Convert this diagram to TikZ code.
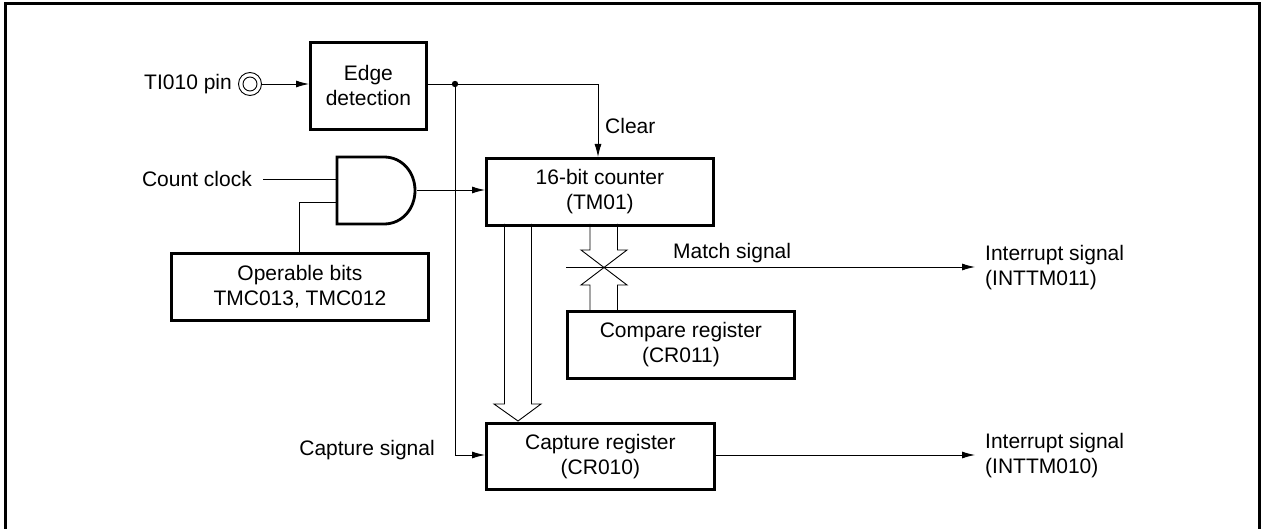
\documentclass[tikz,border=0pt]{standalone}
\usepackage{fontspec}
\setmainfont{Liberation Sans}
\usetikzlibrary{arrows.meta,positioning}
\begin{document}
\begin{tikzpicture}[x=1pt,y=-1pt,font=\fontsize{21}{25}\selectfont,
  blk/.style={draw,line width=2.8pt,align=center,anchor=north west,inner sep=0pt},
  lbl/.style={anchor=west,align=left,inner sep=0pt},
  sig/.style={line width=0.9pt,-{Latex[length=13pt,width=7pt]}},
  wire/.style={line width=0.9pt},
  bus/.style={line width=0.9pt,line join=miter}]
  \useasboundingbox (0,0) rectangle (1261,529);
  \draw[line width=3pt] (5.5,529) -- (5.5,4) -- (1259.5,4) -- (1259.5,529);
  % blocks
  \node[blk,minimum width=116pt,minimum height=87pt] (edge) at (309,41) {Edge\\ detection};
  \node[blk,minimum width=227pt,minimum height=67pt] (cnt) at (485,157) {16-bit counter\\ (TM01)};
  \node[blk,minimum width=257pt,minimum height=67pt] (opb) at (170,252) {Operable bits\\ TMC013, TMC012};
  \node[blk,minimum width=227pt,minimum height=67pt] (cmp) at (566,310) {Compare register\\ (CR011)};
  \node[blk,minimum width=228pt,minimum height=66pt] (cap) at (485,422) {Capture register\\ (CR010)};
  % pin
  \node[circle,draw,line width=0.9pt,minimum size=23pt,inner sep=0pt] (pin) at (250,84) {};
  \node[circle,draw,line width=0.9pt,minimum size=14pt,inner sep=0pt] (pinc) at (250,84) {};
  \node[anchor=east,inner sep=0pt] (tin) at (232,84) {TI010 pin};
  % and gate
  \draw[line width=2.8pt] (337,157) -- (384,157) .. controls (402,157) and (415,172) .. (415,190.5) .. controls (415,209) and (402,224) .. (384,224) -- (337,224) -- cycle;
  \coordinate (and1) at (337,179);
  \coordinate (and2) at (337,202);
  \coordinate (ando) at (417,190);
  \node[anchor=east,inner sep=0pt] (clk) at (252,179) {Count clock};
  \coordinate (clke) at (263,179);
  \draw[wire] (clke) -- (and1);
  \draw[wire] (and2) -- (299,202) -- (opb.north -| 299,0);
  \draw[sig] (ando) -- (ando -| cnt.west);
  % edge output
  \draw[sig] (pin.east) -- (edge.west |- pin);
  \coordinate (jn) at (455,84);
  \fill (jn) circle (3.2pt);
  \draw[wire] (edge.east |- jn) -- (jn);
  \draw[sig] (jn) -- (598,84) -- (cnt.north -| 598,0);
  \draw[sig] (jn) -- (455,455) -- (cap.west |- 0,455);
  \node[lbl] (clr) at (605,126) {Clear};
  \node[anchor=east,inner sep=0pt] (csig) at (435,450) {Capture signal};
  % wide arrow to capture
  \draw[bus] (504.5,224) -- (504.5,404) -- (494,404) -- (518,421) -- (541,404) -- (531.5,404) -- (531.5,224);
  % compare bus
  \draw[bus] (590,224) -- (590,250) -- (581,250) -- (627,285) -- (617.5,285) -- (617.5,310);
  \draw[bus] (617.5,224) -- (617.5,250) -- (627,250) -- (581,285) -- (590,285) -- (590,310);
  % outputs
  \coordinate (ms) at (566,267);
  \node[lbl] (mt) at (673,253) {Match signal};
  \node[lbl] (int1) at (985,268) {Interrupt signal\\ (INTTM011)};
  \node[lbl] (int0) at (985,456) {Interrupt signal\\ (INTTM010)};
  \coordinate (e1) at (975,267);
  \coordinate (e0) at (975,455);
  \draw[sig] (ms) -- (e1);
  \draw[sig] (cap.east |- e0) -- (e0);
\end{tikzpicture}
\end{document}
